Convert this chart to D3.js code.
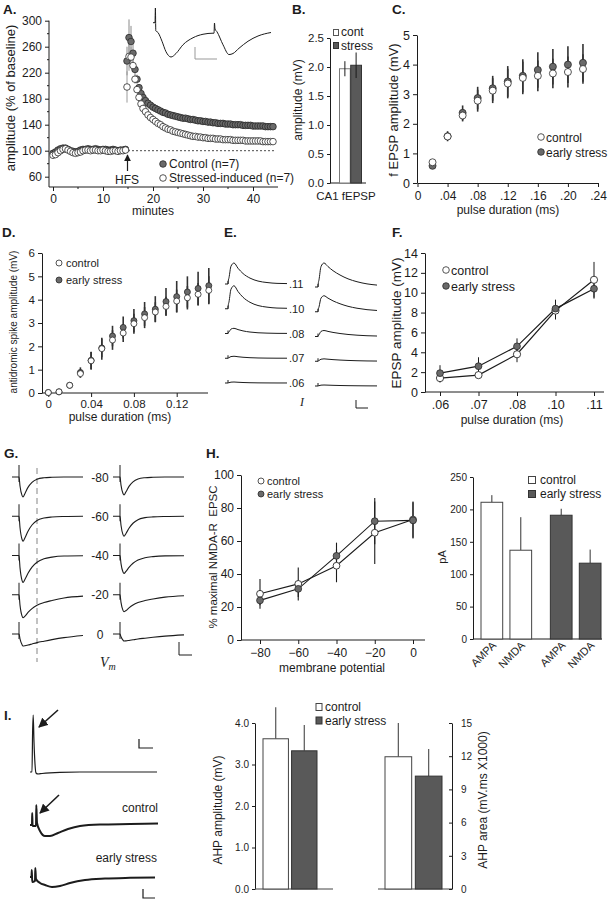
<!DOCTYPE html>
<html><head><meta charset="utf-8">
<script src="https://cdn.jsdelivr.net/npm/d3@7"></script>
<style>body{margin:0;background:#fff}</style>
</head><body>
<script>
// ================= DATA =================
// Panel A (LTP time course)
const aBaseTime = [0,0.5,1,1.5,2,2.5,3,3.5,4,4.5,5,5.5,6,6.5,7,7.5,8,8.5,9,9.5,10,10.5,11,11.5,12,12.5,13,13.5,14,14.5];
const aCtrlBase = [96,98,101,103,104,104,102,100,99,98,99,101,102,102,103,102,102,103,102,101,102,102,101,101,102,101,100,101,101,102];
const aStrBase  = [93,94,97,100,102,103,101,99,97,96,97,98,100,101,101,100,101,101,100,100,101,100,99,99,100,100,99,100,100,101];
const aPostTime = [14.8,15.2,15.6,16,16.4,16.8,17.2,17.6,18,18.5,19,19.5,20,20.5,21,21.5,22,22.5,23,23.5,24,24.5,25,25.5,26,26.5,27,27.5,28,28.5,29,29.5,30,30.5,31,31.5,32,32.5,33,33.5,34,34.5,35,35.5,36,36.5,37,37.5,38,38.5,39,39.5,40,40.5,41,41.5,42,42.5,43,43.5,44];
const aCtrlPost = [238,274,268,250,225,210,197,188,182,177,173,170,167,165,163,161,159,158,156,155,154,153,152,151,150,150,149,148,148,147,146,146,145,145,144,144,143,143,142,142,142,141,141,141,140,140,140,140,139,139,139,139,138,138,138,138,138,137,137,137,137];
const aStrPost  = [198,245,244,231,210,194,182,172,165,160,155,151,148,145,142,140,137,135,133,132,130,129,128,127,126,125,124,123,122,122,121,121,120,120,119,119,119,118,118,118,117,117,117,117,116,116,116,116,116,115,115,115,115,115,115,115,114,114,114,114,114];
const aCtrlErrEarly = [22,28,24,14,9,7];
const aStrErrEarly  = [24,22,16,10,7,5];
const aSemLate = 4;
const aYTicks = [60,100,140,180,220,260,300];
const aYMinor = [80,120,160,200,240,280];
const aXTicks = [0,10,20,30,40];
const aXMinor = [5,15,25,35];
const aInsetT = [0,2,2.4,2.8,5,9,13,18,23,30,40,50,60,61,61.5,62,64,70,76,80,86,95,105,118];
const aInsetV = [-0.02,-0.02,0.4,-0.25,-0.3,-0.55,-0.85,-1.0,-0.9,-0.65,-0.45,-0.35,-0.32,-0.32,-0.03,-0.2,-0.28,-0.65,-0.93,-0.9,-0.75,-0.55,-0.4,-0.3];

// Panel B
const bCats = ["cont","stress"];
const bVals = [1.97,2.03];
const bErr  = [0.13,0.22];
const bTicks = [0,0.5,1,1.5,2,2.5];

// Panel C
const cX = [0.02,0.04,0.06,0.08,0.10,0.12,0.14,0.16,0.18,0.20,0.22];
const cCtrl = [0.70,1.57,2.28,2.78,3.12,3.36,3.55,3.62,3.70,3.75,3.85];
const cStress = [0.58,1.58,2.37,2.87,3.20,3.43,3.62,3.82,3.93,4.00,4.06];
const cCtrlErr = [0,0.12,0.2,0.37,0.42,0.5,0.55,0.52,0.5,0.52,0.5];
const cStressErr = [0,0.17,0.25,0.38,0.42,0.52,0.56,0.6,0.6,0.62,0.64];
const cXTicks = [0,0.04,0.08,0.12,0.16,0.20,0.24];
const cYTicks = [0,1,2,3,4,5];

// Panel D
const dX = [0,0.01,0.02,0.03,0.04,0.05,0.06,0.07,0.08,0.09,0.10,0.11,0.12,0.13,0.14,0.15];
const dCtrl = [0.02,0.05,0.33,0.83,1.38,1.90,2.27,2.57,2.97,3.23,3.47,3.71,3.94,4.08,4.23,4.40];
const dStress = [0.02,0.05,0.33,0.88,1.40,1.93,2.44,2.81,3.10,3.39,3.59,3.92,4.13,4.33,4.48,4.60];
const dCtrlErr = [0,0,0,0.17,0.38,0.47,0.42,0.38,0.43,0.45,0.42,0.41,0.49,0.5,0.48,0.6];
const dStressErr = [0,0,0,0.22,0.37,0.4,0.44,0.47,0.5,0.51,0.56,0.58,0.67,0.67,0.72,0.76];
const dXTicks = [0,0.04,0.08,0.12];
const dYTicks = [0,1,2,3,4,5,6];

// Panel E (EPSP traces)
const eRows = [".11",".10",".08",".07",".06"];
const eAmpLeft  = [10.5,11.5,2.6,1.0,0.5];
const eAmpRight = [12,8,3,1.2,0.5];
const eT = [0,3,3.2,4,6,9,13,18,25,33,42,52,62];
const eShapeLeft  = [0,0,0.12,0.3,0.85,1,0.75,0.5,0.28,0.14,0.07,0.03,0.02];
const eShapeRight = [0,0,0.12,0.3,0.85,1,0.85,0.68,0.5,0.34,0.22,0.13,0.08];

// Panel F
const fCats = [".06",".07",".08",".10",".11"];
const fCtrl = [1.4,1.7,3.8,8.2,11.3];
const fStress = [1.9,2.6,4.6,8.4,10.4];
const fCtrlErr = [0.45,0.3,0.8,0.9,1.8];
const fStressErr = [0.8,0.9,0.8,0.9,1.0];
const fYTicks = [0,2,4,6,8,10,12,14];

// Panel G (EPSC traces at holding potentials)
const gRows = ["-80","-60","-40","-20","0"];
const gAmpLeft  = [20,25,27,23,12];
const gAmpRight = [18,20,18,17,7];
const gT = [0,7,8,10,11,13,16,20,25,32,40,52,71];
const gShapes = [
  [0,0,0.45,0.92,1,0.82,0.52,0.27,0.11,0.04,0.015,0,0],
  [0,0,0.45,0.92,1,0.86,0.6,0.35,0.17,0.07,0.03,0.01,0],
  [0,0,0.45,0.92,1,0.88,0.66,0.43,0.25,0.12,0.06,0.02,0.01],
  [0,0,0.45,0.92,1,0.93,0.77,0.6,0.46,0.34,0.25,0.14,0.06],
  [0,0,0.4,0.88,1,0.98,0.92,0.83,0.72,0.6,0.47,0.3,0.12]
];

// Panel H
const hV = [-80,-60,-40,-20,0];
const hCtrl = [28,34,45,65,73];
const hStress = [24,31,51,72,72.5];
const hCtrlErr = [9,10,10,19,11];
const hStressErr = [3,5,8,14,11];
const hXTicks = [-80,-60,-40,-20,0];
const hYTicks = [0,20,40,60,80,100];
// Panel H right (bars)
const hbGroups = ["control","early stress"];
const hbTypes = ["AMPA","NMDA"];
const hbVals = {"control":[211,137],"early stress":[191,117]};
const hbErr  = {"control":[11,51],"early stress":[10,21]};
const hbTicks = [0,50,100,150,200,250];

// Panel I
const iTopT = [0,2,2.6,3.2,4,5,6,8,12,20,30,50,127];
const iTopV = [0,0,40,57,30,8,-1,-2,-1.5,-0.8,-0.3,0,0];
const iMidT = [0,2,2.2,2.6,6,6.3,7,10,15,20,28,38,50,70,100,128];
const iMidV = [-2,-2,10,-3,-3,18,0,-8,-13,-13,-10,-6,-3,-1.5,-1,-0.5];
const iBotT = [0,1.5,1.8,2.2,5,5.3,6,10,15,22,30,40,55,75,100,125];
const iBotV = [0,0,7,-5,-4,9,-2,-6,-8,-10,-9,-6,-3,-1.5,-0.8,-0.5];
const iGroups = ["control","early stress"];
const iAmp = [3.62,3.33];
const iAmpErr = [0.76,0.62];
const iArea = [11.95,10.2];
const iAreaErr = [3.05,2.45];
const iAmpTicks = [0,1,2,3,4];
const iAreaTicks = [0,3,6,9,12,15];

// ================= DRAWING =================
const FONT = "'Liberation Sans', Arial, Helvetica, sans-serif";
const SERIF = "'Liberation Serif', 'Times New Roman', serif";
const INK = "#1c1c1c";
const DARK = "#595959";
const DARKSTROKE = "#333";
const fmtInt = d3.format("d");

const svg = d3.select("body").append("svg").attr("width",608).attr("height",900);
svg.append("rect").attr("width",608).attr("height",900).attr("fill","#fff");
const defs = svg.append("defs");
defs.append("marker").attr("id","arrow").attr("viewBox","0 0 10 10").attr("refX",9).attr("refY",5)
  .attr("markerWidth",6).attr("markerHeight",6).attr("orient","auto-start-reverse")
  .append("path").attr("d","M0,0 L10,5 L0,10 z").attr("fill",INK);

function text(g,x,y,s,o={}){
  const t=g.append("text").attr("x",x).attr("y",y).text(s)
    .attr("font-family",o.family||FONT).attr("font-size",o.size||12)
    .attr("fill",o.fill||INK).attr("text-anchor",o.anchor||"start");
  if(o.weight) t.attr("font-weight",o.weight);
  if(o.style) t.attr("font-style",o.style);
  if(o.rotate!=null) t.attr("transform",`rotate(${o.rotate},${x},${y})`);
  return t;
}
function styleAxis(g,size){
  g.selectAll("path.domain").attr("stroke",INK);
  g.selectAll(".tick line").attr("stroke",INK);
  g.selectAll(".tick text").attr("font-family",FONT).attr("font-size",size).attr("fill",INK);
}
function line(g,x1,y1,x2,y2,stroke,w){
  return g.append("line").attr("x1",x1).attr("y1",y1).attr("x2",x2).attr("y2",y2)
    .attr("stroke",stroke||INK).attr("stroke-width",w||1);
}
function fmtDot(d){ if(d===0) return "0"; return d3.format(".2f")(d).replace(/^0/,""); }

// ---------- Panel labels ----------
[["A.",3,14],["B.",292,14],["C.",392,14],["D.",2,237],["E.",224,237],["F.",392,237],["G.",4,458],["H.",206,458],["I.",4,720]]
  .forEach(([s,x,y])=>text(svg,x,y,s,{size:13.5,weight:"bold"}));

// ---------- Panel A ----------
{
  const g = svg.append("g");
  const x = d3.scaleLinear().domain([0,45]).range([53,278]);
  const y = d3.scaleLinear().domain([60,300]).range([176.7,20.7]);
  const ax = g.append("g").attr("transform","translate(49,0)")
    .call(d3.axisLeft(y).tickValues(aYTicks).tickFormat(fmtInt).tickSize(4).tickPadding(3));
  ax.select(".domain").remove(); styleAxis(ax,12);
  line(g,49,y(300),49,187);
  aYMinor.forEach(v=>line(g,47,y(v),49,y(v)));
  const bx = g.append("g").attr("transform","translate(0,187)")
    .call(d3.axisBottom(x).tickValues(aXTicks).tickFormat(fmtInt).tickSize(4).tickPadding(3));
  bx.select(".domain").remove(); styleAxis(bx,12);
  line(g,49,187,278,187);
  aXMinor.forEach(v=>line(g,x(v),187,x(v),189));
  text(g,x(20),215,"minutes",{anchor:"middle",size:12});
  text(g,15,98,"amplitude (% of baseline)",{anchor:"middle",size:13,rotate:-90});
  g.append("line").attr("x1",x(15)).attr("x2",x(44.5)).attr("y1",y(100)).attr("y2",y(100))
    .attr("stroke",INK).attr("stroke-width",0.8).attr("stroke-dasharray","2,2");
  aPostTime.forEach((t,i)=>{
    const ec = i<aCtrlErrEarly.length?aCtrlErrEarly[i]:aSemLate;
    const es = i<aStrErrEarly.length?aStrErrEarly[i]:aSemLate;
    line(g,x(t),y(aCtrlPost[i]-ec),x(t),y(aCtrlPost[i]+ec),"#8a8a8a",1);
    line(g,x(t),y(aStrPost[i]-es),x(t),y(aStrPost[i]+es),"#9a9a9a",1);
  });
  const ctrl = aBaseTime.map((t,i)=>[t,aCtrlBase[i]]).concat(aPostTime.map((t,i)=>[t,aCtrlPost[i]]));
  const str  = aBaseTime.map((t,i)=>[t,aStrBase[i]]).concat(aPostTime.map((t,i)=>[t,aStrPost[i]]));
  g.selectAll(".ac").data(ctrl).enter().append("circle").attr("cx",d=>x(d[0])).attr("cy",d=>y(d[1])).attr("r",3.3)
    .attr("fill","#6a6a6a").attr("stroke","#2a2a2a").attr("stroke-width",0.8);
  g.selectAll(".as").data(str).enter().append("circle").attr("cx",d=>x(d[0])).attr("cy",d=>y(d[1])).attr("r",3.3)
    .attr("fill","#fff").attr("stroke","#2a2a2a").attr("stroke-width",0.8);
  g.append("line").attr("x1",x(15)-0.5).attr("x2",x(15)-0.5).attr("y1",171).attr("y2",155)
    .attr("stroke",INK).attr("stroke-width",1.2).attr("marker-end","url(#arrow)");
  text(g,x(15)-1,184,"HFS",{anchor:"middle",size:12});
  g.append("circle").attr("cx",163).attr("cy",164).attr("r",3.3).attr("fill","#6a6a6a").attr("stroke","#2a2a2a").attr("stroke-width",0.8);
  g.append("circle").attr("cx",163).attr("cy",178).attr("r",3.3).attr("fill","#fff").attr("stroke","#2a2a2a").attr("stroke-width",0.8);
  text(g,169,168,"Control (n=7)",{size:12});
  text(g,169,182,"Stressed-induced (n=7)",{size:12});
  const ix = d3.scaleLinear().domain([0,118]).range([153,271]);
  const iy = d3.scaleLinear().domain([-1,0]).range([57,22]);
  g.append("path").attr("d",d3.line().x(d=>ix(d[0])).y(d=>iy(d[1])).curve(d3.curveMonotoneX)(aInsetT.map((t,i)=>[t,aInsetV[i]])))
    .attr("fill","none").attr("stroke",INK).attr("stroke-width",1);
  g.append("path").attr("d","M195,47 L195,59 L217,59").attr("fill","none").attr("stroke","#999").attr("stroke-width",1);
}

// ---------- Panel B ----------
{
  const g = svg.append("g");
  const y = d3.scaleLinear().domain([0,2.5]).range([183,38]);
  const x = d3.scaleBand().domain(bCats).range([339.5,361.5]).paddingInner(0.04);
  const ax = g.append("g").attr("transform","translate(330,0)")
    .call(d3.axisLeft(y).tickValues(bTicks).tickFormat(d3.format(".1f")).tickSize(3).tickPadding(3).tickSizeOuter(0));
  styleAxis(ax,11.5);
  line(g,330,183,366,183);
  bCats.forEach((c,i)=>{
    g.append("rect").attr("x",x(c)).attr("y",y(bVals[i])).attr("width",x.bandwidth()).attr("height",183-y(bVals[i]))
      .attr("fill",i===0?"#fff":DARK).attr("stroke",i===0?"#7a7a7a":DARKSTROKE).attr("stroke-width",1);
    line(g,x(c)+x.bandwidth()/2,y(bVals[i]-bErr[i]),x(c)+x.bandwidth()/2,y(bVals[i]+bErr[i]),INK,1);
  });
  g.append("rect").attr("x",333.5).attr("y",29.5).attr("width",5).attr("height",6).attr("fill","#fff").attr("stroke","#555");
  g.append("rect").attr("x",333.5).attr("y",42.5).attr("width",5).attr("height",6).attr("fill",DARK).attr("stroke",DARKSTROKE);
  text(g,341,36,"cont",{size:12});
  text(g,341,49.5,"stress",{size:12});
  text(g,346,200,"CA1 fEPSP",{anchor:"middle",size:11.5});
  text(g,302,100,"amplitude (mV)",{anchor:"middle",size:12,rotate:-90});
}

// ---------- Panel C ----------
{
  const g = svg.append("g");
  const x = d3.scaleLinear().domain([0,0.24]).range([417.5,598]);
  const y = d3.scaleLinear().domain([0,5]).range([183,35]);
  const ax = g.append("g").attr("transform","translate(417,0)")
    .call(d3.axisLeft(y).tickValues(cYTicks).tickFormat(fmtInt).tickSize(4).tickPadding(3).tickSizeOuter(0));
  styleAxis(ax,12.5);
  const bx = g.append("g").attr("transform","translate(0,183)")
    .call(d3.axisBottom(x).tickValues(cXTicks).tickFormat(fmtDot).tickSize(4).tickPadding(4).tickSizeOuter(0));
  styleAxis(bx,12);
  text(g,508,214,"pulse duration (ms)",{anchor:"middle",size:12});
  text(g,398,110,"f EPSP amplitude (mV)",{anchor:"middle",size:13,rotate:-90});
  cX.forEach((v,i)=>{
    if(cStressErr[i]>0) line(g,x(v),y(cStress[i]-cStressErr[i]),x(v),y(cStress[i]+cStressErr[i]),"#333",1.6);
    if(cCtrlErr[i]>0) line(g,x(v),y(cCtrl[i]-cCtrlErr[i]),x(v),y(cCtrl[i]+cCtrlErr[i]),"#333",1.6);
  });
  cX.forEach((v,i)=>g.append("circle").attr("cx",x(v)).attr("cy",y(cStress[i])).attr("r",3.5).attr("fill","#6a6a6a").attr("stroke","#2a2a2a").attr("stroke-width",0.8));
  cX.forEach((v,i)=>g.append("circle").attr("cx",x(v)).attr("cy",y(cCtrl[i])).attr("r",3.5).attr("fill","#fff").attr("stroke","#2a2a2a").attr("stroke-width",0.8));
  g.append("circle").attr("cx",541).attr("cy",137).attr("r",3.3).attr("fill","#fff").attr("stroke","#2a2a2a").attr("stroke-width",0.8);
  g.append("circle").attr("cx",541).attr("cy",152).attr("r",3.3).attr("fill","#6a6a6a").attr("stroke","#2a2a2a").attr("stroke-width",0.8);
  text(g,546,141.5,"control",{size:12});
  text(g,546,156.5,"early stress",{size:12});
}

// ---------- Panel D ----------
{
  const g = svg.append("g");
  const x = d3.scaleLinear().domain([0,0.15]).range([48.3,208.8]);
  const y = d3.scaleLinear().domain([0,6]).range([393,253]);
  const ax = g.append("g").attr("transform","translate(42,0)")
    .call(d3.axisLeft(y).tickValues(dYTicks).tickFormat(fmtInt).tickSize(4).tickPadding(3).tickSizeOuter(0));
  styleAxis(ax,11.5);
  const bx = g.append("g").attr("transform","translate(0,393)")
    .call(d3.axisBottom(x).tickValues(dXTicks).tickFormat(d=>d===0?"0":d3.format(".2f")(d)).tickSize(4).tickPadding(3));
  bx.select(".domain").remove(); styleAxis(bx,11.5);
  line(g,42,393,208,393);
  text(g,120,421,"pulse duration (ms)",{anchor:"middle",size:12});
  text(g,17,322,"antidromic spike amplitude (mV)",{anchor:"middle",size:10,rotate:-90});
  dX.forEach((v,i)=>{
    if(dStressErr[i]>0) line(g,x(v),y(dStress[i]-dStressErr[i]),x(v),y(dStress[i]+dStressErr[i]),"#333",1.6);
    if(dCtrlErr[i]>0) line(g,x(v),y(dCtrl[i]-dCtrlErr[i]),x(v),y(dCtrl[i]+dCtrlErr[i]),"#333",1.6);
  });
  dX.forEach((v,i)=>g.append("circle").attr("cx",x(v)).attr("cy",y(dStress[i])).attr("r",3).attr("fill","#6a6a6a").attr("stroke","#2a2a2a").attr("stroke-width",0.8));
  dX.forEach((v,i)=>g.append("circle").attr("cx",x(v)).attr("cy",y(dCtrl[i])).attr("r",3).attr("fill","#fff").attr("stroke","#2a2a2a").attr("stroke-width",0.8));
  g.append("circle").attr("cx",59).attr("cy",263).attr("r",3).attr("fill","#fff").attr("stroke","#2a2a2a").attr("stroke-width",0.8);
  g.append("circle").attr("cx",59).attr("cy",280).attr("r",3).attr("fill","#6a6a6a").attr("stroke","#2a2a2a").attr("stroke-width",0.8);
  text(g,66,267,"control",{size:11});
  text(g,66,284,"early stress",{size:11});
}

// ---------- Panel E ----------
{
  const g = svg.append("g");
  const row = d3.scalePoint().domain(eRows).range([284,383]);
  const xl = d3.scaleLinear().domain([0,62]).range([225,287]);
  const xr = d3.scaleLinear().domain([0,62]).range([315,377]);
  const amp = d3.scaleLinear().domain([0,10]).range([0,20]);
  eRows.forEach((r,i)=>{
    const b = row(r);
    g.append("path").attr("d",d3.line().x(d=>xl(d[0])).y(d=>b-amp(d[1])).curve(d3.curveMonotoneX)(eT.map((t,k)=>[t,eShapeLeft[k]*eAmpLeft[i]])))
      .attr("fill","none").attr("stroke",INK).attr("stroke-width",1);
    g.append("path").attr("d",d3.line().x(d=>xr(d[0])).y(d=>b+3-amp(d[1])).curve(d3.curveMonotoneX)(eT.map((t,k)=>[t,eShapeRight[k]*eAmpRight[i]])))
      .attr("fill","none").attr("stroke",INK).attr("stroke-width",1);
    line(g,xl(3),b,xl(3),b-3,INK,1);
    line(g,xr(3),b+3,xr(3),b,INK,1);
    text(g,289,b+4,r,{size:11});
  });
  text(g,300,406,"I",{family:SERIF,style:"italic",size:12});
  g.append("path").attr("d","M356,400 L356,408 L368,408").attr("fill","none").attr("stroke",INK).attr("stroke-width",1);
}

// ---------- Panel F ----------
{
  const g = svg.append("g");
  const x = d3.scalePoint().domain(fCats).range([440,594]);
  const y = d3.scaleLinear().domain([0,14]).range([392,253]);
  const ax = g.append("g").attr("transform","translate(425,0)")
    .call(d3.axisLeft(y).tickValues(fYTicks).tickFormat(fmtInt).tickSize(4).tickPadding(3).tickSizeOuter(0));
  styleAxis(ax,12.5);
  const bx = g.append("g").attr("transform","translate(0,392)")
    .call(d3.axisBottom(x).tickSize(4).tickPadding(4).tickSizeOuter(0));
  bx.select(".domain").remove(); styleAxis(bx,12.5);
  line(g,425,392,604,392);
  text(g,512,424,"pulse duration (ms)",{anchor:"middle",size:12});
  text(g,401,323,"EPSP amplitude (mV)",{anchor:"middle",size:13.5,rotate:-90});
  fCats.forEach((c,i)=>{
    line(g,x(c),y(fStress[i]-fStressErr[i]),x(c),y(fStress[i]+fStressErr[i]),INK,1);
    line(g,x(c),y(fCtrl[i]-fCtrlErr[i]),x(c),y(fCtrl[i]+fCtrlErr[i]),INK,1);
  });
  const ln = d3.line().x(d=>x(d[0])).y(d=>y(d[1]));
  g.append("path").attr("d",ln(fCats.map((c,i)=>[c,fCtrl[i]]))).attr("fill","none").attr("stroke",INK).attr("stroke-width",1.2);
  g.append("path").attr("d",ln(fCats.map((c,i)=>[c,fStress[i]]))).attr("fill","none").attr("stroke",INK).attr("stroke-width",1.2);
  fCats.forEach((c,i)=>g.append("circle").attr("cx",x(c)).attr("cy",y(fCtrl[i])).attr("r",3.6).attr("fill","#fff").attr("stroke","#2a2a2a").attr("stroke-width",0.9));
  fCats.forEach((c,i)=>g.append("circle").attr("cx",x(c)).attr("cy",y(fStress[i])).attr("r",3.4).attr("fill","#6a6a6a").attr("stroke","#2a2a2a").attr("stroke-width",0.8));
  g.append("circle").attr("cx",446).attr("cy",270).attr("r",3.3).attr("fill","#fff").attr("stroke","#2a2a2a").attr("stroke-width",0.8);
  g.append("circle").attr("cx",446).attr("cy",286).attr("r",3.3).attr("fill","#6a6a6a").attr("stroke","#2a2a2a").attr("stroke-width",0.8);
  text(g,451,274.5,"control",{size:12.5});
  text(g,451,290.5,"early stress",{size:12.5});
}

// ---------- Panel G ----------
{
  const g = svg.append("g");
  const row = d3.scalePoint().domain(gRows).range([477,634]);
  const xl = d3.scaleLinear().domain([0,71]).range([12,83]);
  const xr = d3.scaleLinear().domain([0,71]).range([113,184]);
  const amp = d3.scaleLinear().domain([0,10]).range([0,10]);
  g.append("line").attr("x1",37).attr("x2",37).attr("y1",468).attr("y2",662)
    .attr("stroke","#9a9a9a").attr("stroke-width",1.2).attr("stroke-dasharray","6,4");
  gRows.forEach((r,i)=>{
    const b = row(r);
    [[xl,gAmpLeft[i]],[xr,gAmpRight[i]]].forEach(([xs,a])=>{
      g.append("path").attr("d",d3.line().x(d=>xs(d[0])).y(d=>b+amp(d[1])).curve(d3.curveMonotoneX)(gT.map((t,k)=>[t,gShapes[i][k]*a])))
        .attr("fill","none").attr("stroke",INK).attr("stroke-width",1.1);
      line(g,xs(7),b-12,xs(7),b+5,INK,1);
    });
    text(g,100,b+4.5,r,{anchor:"middle",size:12});
  });
  const vm = text(g,100,667,"V",{family:SERIF,style:"italic",size:14});
  vm.append("tspan").attr("dy",3).attr("font-size",10).text("m");
  g.append("path").attr("d","M179,642 L179,655 L192,655").attr("fill","none").attr("stroke",INK).attr("stroke-width",1);
}

// ---------- Panel H (line) ----------
{
  const g = svg.append("g");
  const x = d3.scaleLinear().domain([-80,0]).range([260,413]);
  const y = d3.scaleLinear().domain([0,100]).range([640,475]);
  const ax = g.append("g").attr("transform","translate(241,0)")
    .call(d3.axisLeft(y).tickValues(hYTicks).tickFormat(fmtInt).tickSize(4).tickPadding(3).tickSizeOuter(0));
  styleAxis(ax,12);
  const bx = g.append("g").attr("transform","translate(0,640)")
    .call(d3.axisBottom(x).tickValues(hXTicks).tickFormat(fmtInt).tickSize(4).tickPadding(4));
  bx.select(".domain").remove(); styleAxis(bx,12);
  line(g,241,640,425,640);
  text(g,332,672,"membrane potential",{anchor:"middle",size:12});
  text(g,217,557,"% maximal NMDA-R\u00a0\u00a0EPSC",{anchor:"middle",size:11.5,rotate:-90});
  hV.forEach((v,i)=>{
    line(g,x(v),y(hCtrl[i]-hCtrlErr[i]),x(v),y(hCtrl[i]+hCtrlErr[i]),INK,1.1);
    line(g,x(v),y(hStress[i]-hStressErr[i]),x(v),y(hStress[i]+hStressErr[i]),INK,1.1);
  });
  const ln = d3.line().x(d=>x(d[0])).y(d=>y(d[1]));
  g.append("path").attr("d",ln(hV.map((v,i)=>[v,hCtrl[i]]))).attr("fill","none").attr("stroke",INK).attr("stroke-width",1.1);
  g.append("path").attr("d",ln(hV.map((v,i)=>[v,hStress[i]]))).attr("fill","none").attr("stroke",INK).attr("stroke-width",1.1);
  hV.forEach((v,i)=>g.append("circle").attr("cx",x(v)).attr("cy",y(hCtrl[i])).attr("r",3.4).attr("fill","#fff").attr("stroke","#2a2a2a").attr("stroke-width",0.9));
  hV.forEach((v,i)=>g.append("circle").attr("cx",x(v)).attr("cy",y(hStress[i])).attr("r",3.4).attr("fill","#6a6a6a").attr("stroke","#2a2a2a").attr("stroke-width",0.8));
  g.append("circle").attr("cx",261).attr("cy",481).attr("r",3).attr("fill","#fff").attr("stroke","#2a2a2a").attr("stroke-width",0.8);
  g.append("circle").attr("cx",261).attr("cy",494).attr("r",3).attr("fill","#6a6a6a").attr("stroke","#2a2a2a").attr("stroke-width",0.8);
  text(g,267,485,"control",{size:11});
  text(g,267,498,"early stress",{size:11});
}

// ---------- Panel H (bars) ----------
{
  const g = svg.append("g");
  const y = d3.scaleLinear().domain([0,250]).range([639,477]);
  const xg = d3.scaleBand().domain(hbGroups).range([481,601]).paddingInner(0.27);
  const xi = d3.scaleBand().domain(hbTypes).range([0,xg.bandwidth()]).paddingInner(0.25);
  const ax = g.append("g").attr("transform","translate(473,0)")
    .call(d3.axisLeft(y).tickValues(hbTicks).tickFormat(fmtInt).tickSize(3).tickPadding(3).tickSizeOuter(0));
  styleAxis(ax,10);
  line(g,473,639,602,639);
  hbGroups.forEach((grp,gi)=>{
    hbTypes.forEach((t,ti)=>{
      const bx = xg(grp)+xi(t), v = hbVals[grp][ti], e = hbErr[grp][ti];
      line(g,bx+xi.bandwidth()/2,y(v),bx+xi.bandwidth()/2,y(v+e),"#333",1);
      g.append("rect").attr("x",bx).attr("y",y(v)).attr("width",xi.bandwidth()).attr("height",639-y(v))
        .attr("fill",gi===0?"#fff":DARK).attr("stroke",gi===0?"#444":DARKSTROKE).attr("stroke-width",1);
      const cx = bx+xi.bandwidth()/2+5;
      text(g,cx,646,t,{anchor:"end",size:11,rotate:-45});
    });
  });
  text(g,446,557,"pA",{anchor:"middle",size:11,rotate:-90});
  g.append("rect").attr("x",528.5).attr("y",476.5).attr("width",7).attr("height",7).attr("fill","#fff").attr("stroke","#444");
  g.append("rect").attr("x",528.5).attr("y",490.5).attr("width",7).attr("height",7).attr("fill",DARK).attr("stroke",DARKSTROKE);
  text(g,540,484,"control",{size:12});
  text(g,540,498,"early stress",{size:12});
}

// ---------- Panel I (traces) ----------
{
  const g = svg.append("g");
  const xs = d3.scaleLinear().domain([0,127]).range([30,157]);
  const dy = d3.scaleLinear().domain([0,10]).range([0,10]);
  const mk = (T,V,base)=>d3.line().x(d=>xs(d[0])).y(d=>base-dy(d[1])).curve(d3.curveMonotoneX)(T.map((t,i)=>[t,V[i]]));
  g.append("path").attr("d",mk(iTopT,iTopV,772)).attr("fill","none").attr("stroke",INK).attr("stroke-width",1.2);
  g.append("path").attr("d",mk(iMidT,iMidV,823)).attr("fill","none").attr("stroke",INK).attr("stroke-width",2);
  g.append("path").attr("d",mk(iBotT,iBotV,877)).attr("fill","none").attr("stroke",INK).attr("stroke-width",2);
  g.append("line").attr("x1",58).attr("y1",710).attr("x2",39).attr("y2",727).attr("stroke",INK).attr("stroke-width",1.6).attr("marker-end","url(#arrow)");
  g.append("line").attr("x1",59).attr("y1",795).attr("x2",40).attr("y2",813).attr("stroke",INK).attr("stroke-width",1.6).attr("marker-end","url(#arrow)");
  g.append("path").attr("d","M139,739 L139,748 L153,748").attr("fill","none").attr("stroke",INK).attr("stroke-width",1.2);
  g.append("path").attr("d","M143,889 L143,898 L155,898").attr("fill","none").attr("stroke",INK).attr("stroke-width",1.2);
  text(g,158,812,"control",{anchor:"end",size:12});
  text(g,157,862,"early stress",{anchor:"end",size:12});
}

// ---------- Panel I (bars) ----------
{
  const g = svg.append("g");
  const ya = d3.scaleLinear().domain([0,4]).range([889,723]);
  const yb = d3.scaleLinear().domain([0,15]).range([889,723]);
  const xa = d3.scaleBand().domain(iGroups).range([263,317]).paddingInner(0.11);
  const xb = d3.scaleBand().domain(iGroups).range([385,442]).paddingInner(0.12);
  const ax = g.append("g").attr("transform","translate(255,0)")
    .call(d3.axisLeft(ya).tickValues(iAmpTicks).tickFormat(d3.format(".1f")).tickSize(3).tickPadding(3).tickSizeOuter(0));
  styleAxis(ax,10);
  line(g,255,889,333,889,"#444",1);
  line(g,378,889,452,889,"#444",1);
  const bx = g.append("g").attr("transform","translate(452,0)")
    .call(d3.axisRight(yb).tickValues(iAreaTicks).tickFormat(fmtInt).tickSizeInner(-3).tickSizeOuter(0).tickPadding(9));
  styleAxis(bx,10);
  iGroups.forEach((grp,i)=>{
    const cxa = xa(grp)+xa.bandwidth()/2, cxb = xb(grp)+xb.bandwidth()/2;
    line(g,cxa,ya(iAmp[i]),cxa,ya(iAmp[i]+iAmpErr[i]),"#555",1.2);
    line(g,cxb,yb(iArea[i]),cxb,yb(iArea[i]+iAreaErr[i]),"#555",1.2);
    g.append("rect").attr("x",xa(grp)).attr("y",ya(iAmp[i])).attr("width",xa.bandwidth()).attr("height",889-ya(iAmp[i]))
      .attr("fill",i===0?"#fff":DARK).attr("stroke",i===0?"#444":DARKSTROKE).attr("stroke-width",1);
    g.append("rect").attr("x",xb(grp)).attr("y",yb(iArea[i])).attr("width",xb.bandwidth()).attr("height",889-yb(iArea[i]))
      .attr("fill",i===0?"#fff":DARK).attr("stroke",i===0?"#444":DARKSTROKE).attr("stroke-width",1);
  });
  text(g,222,810,"AHP amplitude (mV)",{anchor:"middle",size:12,rotate:-90});
  text(g,487,800,"AHP area (mV.ms X1000)",{anchor:"middle",size:12,rotate:-90});
  g.append("rect").attr("x",316).attr("y",703.5).attr("width",6).attr("height",7).attr("fill","#fff").attr("stroke","#444");
  g.append("rect").attr("x",316).attr("y",717).attr("width",6).attr("height",7).attr("fill",DARK).attr("stroke",DARKSTROKE);
  text(g,325,711,"control",{size:12});
  text(g,325,724.5,"early stress",{size:12});
}
</script>
</body></html>
